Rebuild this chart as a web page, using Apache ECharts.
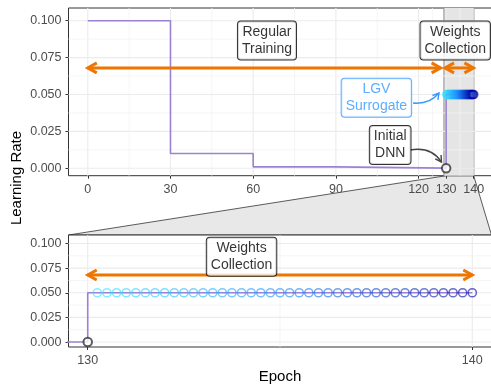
<!DOCTYPE html>
<html>
<head>
<meta charset="utf-8">
<script src="https://cdn.jsdelivr.net/npm/echarts@6/dist/echarts.min.js"></script>
<style>
  html, body { margin: 0; padding: 0; background: #fff; }
  #chart { width: 491px; height: 388px; }
</style>
</head>
<body>
<div id="chart"></div>
<script>
// learning-rate schedule (step changes at the end of each segment)
const scheduleEpochs = [0, 30, 60, 90, 130, 140];
const scheduleRates = [0.1, 0.01, 0.001, 0.0001, 0.05, 0.05];

// LGV weight snapshots, 4 per epoch during collection
const lgvEpochs = [
  130.25, 130.5, 130.75, 131, 131.25, 131.5, 131.75, 132, 132.25, 132.5,
  132.75, 133, 133.25, 133.5, 133.75, 134, 134.25, 134.5, 134.75, 135,
  135.25, 135.5, 135.75, 136, 136.25, 136.5, 136.75, 137, 137.25, 137.5,
  137.75, 138, 138.25, 138.5, 138.75, 139, 139.25, 139.5, 139.75, 140
];
const lgvRate = 0.05;

const initialDnn = [130, 0];

// tick / grid values
const topXTicks = [0, 30, 60, 90, 120, 130, 140];
const topXMinor = [15, 45, 75, 105, 125, 135];
const zoomXTicks = [130, 140];
const zoomXMinor = [135];
const yTicks = [0, 0.025, 0.05, 0.075, 0.1];
const yMinor = [0.0125, 0.0375, 0.0625, 0.0875];

// shaded collection window in the top panel
const collectWindow = [[129.2, 140]];

// double-headed arrows: [from, to, rate]
const topArrows = [[0, 128, 0.068], [129.6, 139.9, 0.068]];
const zoomArrows = [[130, 140, 0.068]];

// boxed notes: [text, epoch, rate]
const topNotes = [
  ['Regular\nTraining', 65, 0.0865],
  ['Weights\nCollection', 133.3, 0.0865],
  ['LGV\nSurrogate', 104.7, 0.0478],
  ['Initial\nDNN', 109.7, 0.0158]
];
const zoomNotes = [['Weights\nCollection', 134, 0.0865]];

// curved pointers: [startX, startY, ctrlX, ctrlY, endX, endY]
const pointers = [
  [118.0, 0.0442, 124.0, 0.0432, 127.4, 0.051],
  [116.9, 0.0124, 124.5, 0.0150, 128.3, 0.0043]
];

const FONT = '"Liberation Sans", Arial, sans-serif';
const ORANGE = '#EE7600';
const PURPLE = '#9C82D4';
const BLUE = '#3399FF';
const pointerColors = [BLUE, '#444444'];
const lgvColors = ['#2EE6FF', '#1E8CFF', '#0000A0'];

const Y_MIN = -0.005;
const Y_MAX = 0.1086;

const chart = echarts.init(document.getElementById('chart'), null, { renderer: 'canvas' });

function gridLineData(vx, vxMinor, vy, vyMinor) {
  const d = [];
  vx.forEach(v => d.push([v, 0, 1]));
  vxMinor.forEach(v => d.push([v, 0, 0]));
  vy.forEach(v => d.push([v, 1, 1]));
  vyMinor.forEach(v => d.push([v, 1, 0]));
  return d;
}

function renderGridLine(params, api) {
  const cs = params.coordSys;
  const v = api.value(0);
  const major = api.value(2) === 1;
  let shape;
  if (api.value(1) === 0) {
    const x = api.coord([v, 0.05])[0];
    shape = { x1: x, y1: cs.y, x2: x, y2: cs.y + cs.height };
  } else {
    const y = api.coord([135, v])[1];
    shape = { x1: cs.x, y1: y, x2: cs.x + cs.width, y2: y };
  }
  return {
    type: 'line',
    shape,
    style: { stroke: major ? '#EBEBEB' : '#F3F3F3', lineWidth: major ? 1.1 : 0.8 }
  };
}

function renderWindow(params, api) {
  const cs = params.coordSys;
  const a = api.coord([api.value(0), 0.05])[0];
  const b = api.coord([api.value(1), 0.05])[0];
  return {
    type: 'group',
    children: [
      { type: 'rect', shape: { x: a, y: cs.y, width: b - a, height: cs.height }, style: { fill: '#E5E5E5' } },
      { type: 'line', shape: { x1: a, y1: cs.y, x2: a, y2: cs.y + cs.height }, style: { stroke: '#8C8C8C', lineWidth: 1 } },
      { type: 'line', shape: { x1: b, y1: cs.y, x2: b, y2: cs.y + cs.height }, style: { stroke: '#555555', lineWidth: 1.2 } }
    ]
  };
}

function renderArrow(params, api) {
  const p1 = api.coord([api.value(0), api.value(2)]);
  const p2 = api.coord([api.value(1), api.value(2)]);
  const L = 9, W = 5;
  const style = { stroke: ORANGE, lineWidth: 3, fill: null, lineJoin: 'miter' };
  return {
    type: 'group',
    children: [
      { type: 'line', shape: { x1: p1[0], y1: p1[1], x2: p2[0], y2: p2[1] }, style },
      { type: 'polyline', shape: { points: [[p1[0] + L, p1[1] - W], p1, [p1[0] + L, p1[1] + W]] }, style },
      { type: 'polyline', shape: { points: [[p2[0] - L, p2[1] - W], p2, [p2[0] - L, p2[1] + W]] }, style }
    ]
  };
}

function renderPointer(params, api) {
  const s = api.coord([api.value(0), api.value(1)]);
  const c = api.coord([api.value(2), api.value(3)]);
  const e = api.coord([api.value(4), api.value(5)]);
  const color = pointerColors[params.dataIndex];
  const ang = Math.atan2(e[1] - c[1], e[0] - c[0]);
  const L = 6, W = 3.5;
  const back = sgn => [
    e[0] - L * Math.cos(ang) + sgn * W * Math.sin(ang),
    e[1] - L * Math.sin(ang) - sgn * W * Math.cos(ang)
  ];
  const style = { stroke: color, lineWidth: 1.4, fill: null };
  return {
    type: 'group',
    children: [
      { type: 'bezierCurve', shape: { x1: s[0], y1: s[1], x2: e[0], y2: e[1], cpx1: c[0], cpy1: c[1] }, style },
      { type: 'polyline', shape: { points: [back(1), e, back(-1)] }, style }
    ]
  };
}

function noteSeries(notes, gi) {
  return {
    type: 'scatter',
    xAxisIndex: gi,
    yAxisIndex: gi,
    z: 10,
    silent: true,
    symbolSize: 1,
    itemStyle: { color: 'transparent' },
    data: notes.map(n => {
      const blue = n[0] === 'LGV\nSurrogate';
      return {
        name: n[0],
        value: [n[1], n[2]],
        label: blue ? { color: BLUE, borderColor: BLUE } : {}
      };
    }),
    label: {
      show: true,
      position: 'inside',
      formatter: '{b}',
      fontFamily: FONT,
      fontSize: 14,
      lineHeight: 17,
      align: 'center',
      color: '#000',
      backgroundColor: '#fff',
      borderColor: '#000',
      borderWidth: 1,
      borderRadius: 3,
      padding: [2, 4]
    }
  };
}

function panelSeries(gi, xTicks, xMinor, arrows) {
  return [
    {
      type: 'custom', xAxisIndex: gi, yAxisIndex: gi, z: 1, silent: true,
      renderItem: renderGridLine,
      data: gridLineData(xTicks, xMinor, yTicks, yMinor)
    },
    {
      type: 'line', xAxisIndex: gi, yAxisIndex: gi, z: 3, silent: true,
      step: 'end', showSymbol: false,
      lineStyle: { color: PURPLE, width: 1.6 },
      data: scheduleEpochs.map((x, i) => [x, scheduleRates[i]])
    },
    {
      type: 'scatter', xAxisIndex: gi, yAxisIndex: gi, z: 4, silent: true,
      symbol: 'circle', symbolSize: 8.2,
      itemStyle: { color: 'transparent', borderWidth: 1.5, opacity: 0.6 },
      data: lgvEpochs.map((x, i) => ({
        value: [x, lgvRate],
        itemStyle: { borderColor: echarts.color.lerp(i / (lgvEpochs.length - 1), lgvColors) }
      }))
    },
    {
      type: 'scatter', xAxisIndex: gi, yAxisIndex: gi, z: 5, silent: true,
      symbol: 'circle', symbolSize: 8.5,
      itemStyle: { color: '#fff', borderColor: '#333', borderWidth: 2 },
      data: [initialDnn]
    },
    {
      type: 'custom', xAxisIndex: gi, yAxisIndex: gi, z: 6, silent: true,
      renderItem: renderArrow,
      data: arrows
    }
  ];
}

function xAxisOf(gi, min, max, ticks) {
  return {
    type: 'value', gridIndex: gi, min, max,
    splitLine: { show: false },
    axisLine: { show: false, onZero: false },
    axisTick: { show: true, length: 3, customValues: ticks, lineStyle: { color: '#333', width: 1 } },
    axisLabel: { customValues: ticks, color: '#4D4D4D', fontSize: 12.5, fontFamily: FONT, margin: 7, hideOverlap: false }
  };
}

function yAxisOf(gi) {
  return {
    type: 'value', gridIndex: gi, min: Y_MIN, max: Y_MAX,
    splitLine: { show: false },
    axisLine: { show: false, onZero: false },
    axisTick: { show: true, length: 3, customValues: yTicks, lineStyle: { color: '#333', width: 1 } },
    axisLabel: {
      customValues: yTicks, color: '#4D4D4D', fontSize: 12.5, fontFamily: FONT, margin: 7,
      formatter: v => v.toFixed(3), hideOverlap: false
    }
  };
}

const option = {
  animation: false,
  backgroundColor: '#fff',
  grid: [
    { left: 68.5, top: 8, width: 424.5, height: 167.7, show: true, backgroundColor: '#fff', borderColor: '#333', borderWidth: 1, outerBoundsMode: 'none' },
    { left: 68.5, top: 235, width: 423, height: 112, show: true, backgroundColor: '#fff', borderColor: '#333', borderWidth: 1, outerBoundsMode: 'none' }
  ],
  xAxis: [xAxisOf(0, -7, 147, topXTicks), xAxisOf(1, 129.5, 140.5, zoomXTicks)],
  yAxis: [yAxisOf(0), yAxisOf(1)],
  series: [
    {
      type: 'custom', xAxisIndex: 0, yAxisIndex: 0, z: 0, silent: true,
      renderItem: renderWindow,
      data: collectWindow
    },
    ...panelSeries(0, topXTicks, topXMinor, topArrows),
    {
      type: 'custom', xAxisIndex: 0, yAxisIndex: 0, z: 6, silent: true,
      renderItem: renderPointer,
      data: pointers
    },
    noteSeries(topNotes, 0),
    ...panelSeries(1, zoomXTicks, zoomXMinor, zoomArrows),
    noteSeries(zoomNotes, 1)
  ]
};

chart.setOption(option);

// zoom funnel linking the collection window to the lower panel
const px = (gi, pt) => chart.convertToPixel({ gridIndex: gi }, pt);
const funnel = [
  px(0, [130, Y_MIN]),
  px(0, [140, Y_MIN]),
  px(1, [140.5, Y_MAX]),
  px(1, [129.5, Y_MAX])
];

chart.setOption({
  graphic: [
    {
      type: 'polygon', z: -1, silent: true,
      shape: { points: funnel },
      style: { fill: '#E8E8E8', stroke: '#333', lineWidth: 0.8 }
    },
    {
      type: 'text', x: 17, y: 178, rotation: Math.PI / 2, silent: true,
      style: { text: 'Learning Rate', fontFamily: FONT, fontSize: 15, fill: '#000', align: 'center', verticalAlign: 'middle' }
    },
    {
      type: 'text', x: 280, y: 377, silent: true,
      style: { text: 'Epoch', fontFamily: FONT, fontSize: 15, fill: '#000', align: 'center', verticalAlign: 'middle' }
    }
  ]
});
</script>
</body>
</html>
